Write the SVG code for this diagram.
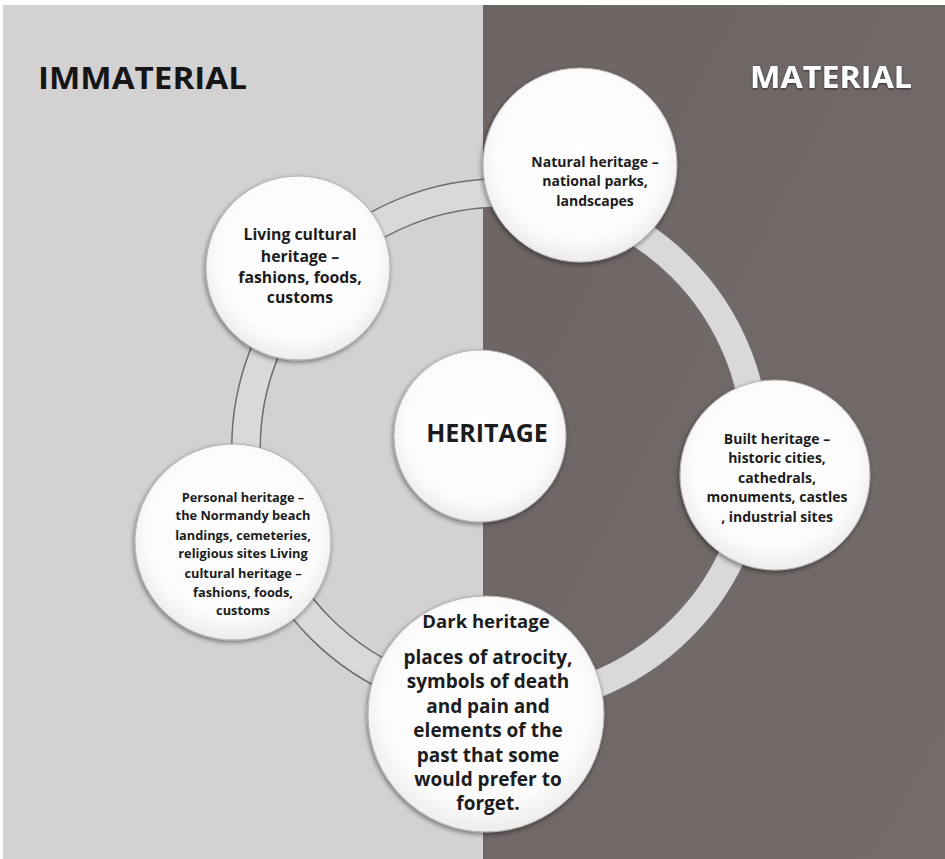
<svg xmlns="http://www.w3.org/2000/svg" width="945" height="859" viewBox="0 0 945 859">
  <defs>
    <radialGradient id="disc" cx="50%" cy="45%" r="55%">
      <stop offset="0" stop-color="#ffffff"/>
      <stop offset="0.8" stop-color="#fbfbfb"/>
      <stop offset="1" stop-color="#ececec"/>
    </radialGradient>
    <linearGradient id="darkSide" x1="0" y1="0" x2="1" y2="1">
      <stop offset="0" stop-color="#6c6564"/>
      <stop offset="1" stop-color="#736c6b"/>
    </linearGradient>
    <filter id="shade" x="-10%" y="-10%" width="120%" height="120%">
      <feGaussianBlur in="SourceAlpha" stdDeviation="2.5"/>
      <feOffset dx="-1" dy="2" result="b"/>
      <feComponentTransfer><feFuncA type="linear" slope="0.45"/></feComponentTransfer>
      <feMerge><feMergeNode/><feMergeNode in="SourceGraphic"/></feMerge>
    </filter>
    <filter id="glow" x="-5%" y="-20%" width="110%" height="140%">
      <feGaussianBlur in="SourceAlpha" stdDeviation="1.2"/>
      <feOffset dx="0" dy="1"/>
      <feComponentTransfer><feFuncA type="linear" slope="0.6"/></feComponentTransfer>
      <feMerge><feMergeNode/><feMergeNode in="SourceGraphic"/></feMerge>
    </filter>
  </defs>
  <style>
    .disc { fill: url(#disc); stroke: #b4b4b4; stroke-width: 1; filter: url(#shade); }
    .lbl { font-family: "Open Sans", "Liberation Sans", sans-serif; font-weight: 700; fill: #1c1c1c; text-anchor: middle; }
    .head { font-family: "Open Sans", "Liberation Sans", sans-serif; font-weight: 700; font-size: 30px; }
    .band { fill: none; }
  </style>

  <!-- backdrop: light half and dark half -->
  <rect x="0" y="0" width="945" height="859" fill="#ffffff"/>
  <rect x="3" y="5" width="480" height="854" fill="#d3d1d1"/>
  <rect x="483" y="5" width="462" height="854" fill="url(#darkSide)"/>

  <text class="head" x="38" y="89" fill="#161616" textLength="209" lengthAdjust="spacingAndGlyphs">IMMATERIAL</text>
  <text class="head" x="750" y="88" fill="#ffffff" filter="url(#glow)" textLength="162" lengthAdjust="spacingAndGlyphs">MATERIAL</text>

  <!-- connecting ring: outlined light band -->
  <g id="connectors">
    <circle cx="501" cy="448" r="255" class="band" stroke="#6e6e6e" stroke-width="30"/>
    <circle cx="501" cy="448" r="255" class="band" stroke="#d9d9d9" stroke-width="27"/>
  </g>

  <g id="living">
    <circle class="disc" cx="298" cy="268" r="92"/>
    <text class="lbl" font-size="15.8" x="300" y="240">Living cultural</text>
    <text class="lbl" font-size="15.8" x="300" y="262">heritage –</text>
    <text class="lbl" font-size="15.8" x="300" y="283">fashions, foods,</text>
    <text class="lbl" font-size="15.8" x="300" y="303">customs</text>
  </g>

  <g id="natural">
    <circle class="disc" cx="580" cy="165" r="97"/>
    <text class="lbl" font-size="14" x="595" y="167">Natural heritage –</text>
    <text class="lbl" font-size="14" x="595" y="186">national parks,</text>
    <text class="lbl" font-size="14" x="595" y="206">landscapes</text>
  </g>

  <g id="heritage">
    <circle class="disc" cx="480" cy="436" r="86"/>
    <text class="lbl" font-size="25" x="487" y="442">HERITAGE</text>
  </g>

  <g id="built">
    <circle class="disc" cx="775" cy="475" r="95"/>
    <text class="lbl" font-size="14" x="777" y="444">Built heritage –</text>
    <text class="lbl" font-size="14" x="777" y="463">historic cities,</text>
    <text class="lbl" font-size="14" x="777" y="483">cathedrals,</text>
    <text class="lbl" font-size="14" x="777" y="502">monuments, castles</text>
    <text class="lbl" font-size="14" x="777" y="522">, industrial sites</text>
  </g>

  <g id="personal">
    <circle class="disc" cx="233" cy="542" r="98"/>
    <text class="lbl" font-size="12.8" x="243" y="502">Personal heritage –</text>
    <text class="lbl" font-size="12.8" x="243" y="520">the Normandy beach</text>
    <text class="lbl" font-size="12.8" x="243" y="540">landings, cemeteries,</text>
    <text class="lbl" font-size="12.8" x="243" y="558">religious sites Living</text>
    <text class="lbl" font-size="12.8" x="243" y="578">cultural heritage –</text>
    <text class="lbl" font-size="12.8" x="243" y="597">fashions, foods,</text>
    <text class="lbl" font-size="12.8" x="243" y="615">customs</text>
  </g>

  <g id="dark">
    <circle class="disc" cx="486" cy="714" r="118"/>
    <text class="lbl" font-size="18.5" x="486" y="628">Dark heritage</text>
    <text class="lbl" font-size="19" x="488" y="664">places of atrocity,</text>
    <text class="lbl" font-size="19" x="488" y="688">symbols of death</text>
    <text class="lbl" font-size="19" x="488" y="713">and pain and</text>
    <text class="lbl" font-size="19" x="488" y="737">elements of the</text>
    <text class="lbl" font-size="19" x="488" y="762">past that some</text>
    <text class="lbl" font-size="19" x="488" y="786">would prefer to</text>
    <text class="lbl" font-size="19" x="488" y="810">forget.</text>
  </g>
</svg>
